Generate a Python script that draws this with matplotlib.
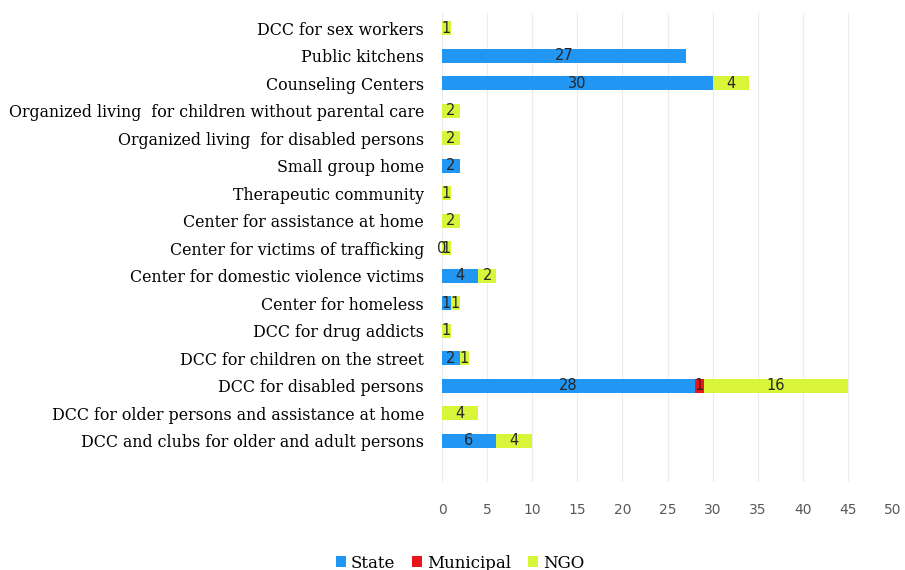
import matplotlib
matplotlib.use("Agg")
import matplotlib.pyplot as plt
import numpy as np

categories = [
    "DCC for sex workers",
    "Public kitchens",
    "Counseling Centers",
    "Organized living  for children without parental care",
    "Organized living  for disabled persons",
    "Small group home",
    "Therapeutic community",
    "Center for assistance at home",
    "Center for victims of trafficking",
    "Center for domestic violence victims",
    "Center for homeless",
    "DCC for drug addicts",
    "DCC for children on the street",
    "DCC for disabled persons",
    "DCC for older persons and assistance at home",
    "DCC and clubs for older and adult persons",
]
nan = np.nan
state     = [nan, 27, 30, nan, nan, 2, nan, nan, 0, 4, 1, nan, 2, 28, nan, 6]
municipal = [nan, nan, nan, nan, nan, nan, nan, nan, nan, nan, nan, nan, nan, 1, nan, nan]
ngo       = [1, nan, 4, 2, 2, nan, 1, 2, 1, 2, 1, 1, 1, 16, 4, 4]
series_names = ["State", "Municipal", "NGO"]
colors = ["#2196F3", "#E8161B", "#D9F53A"]
xticks = [0, 5, 10, 15, 20, 25, 30, 35, 40, 45, 50]

fig = plt.figure(figsize=(9.05, 5.7), dpi=100)
ax = fig.add_axes([442/905, 1-482/570, 451/905, 469/570])

n = len(categories)
y = np.arange(n)[::-1]
left = np.zeros(n)
for vals, name, col in zip([state, municipal, ngo], series_names, colors):
    v = np.array(vals, dtype=float)
    w = np.nan_to_num(v)
    ax.barh(y, w, left=left, height=0.5, color=col, label=name, linewidth=0)
    for yi, l, val in zip(y, left, v):
        if not np.isnan(val):
            ax.text(l + val/2, yi, f"{int(val)}", ha="center", va="center",
                    fontsize=10.5, color="#262626", family="DejaVu Sans")
    left = left + w

ax.set_xlim(0, 50)
ax.set_ylim(-1.5, 15.55)
ax.set_yticks(y)
ax.set_yticklabels(categories, family="DejaVu Serif", fontsize=11.45, color="black")
ax.set_xticks(xticks)
ax.set_xticklabels([str(t) for t in xticks], family="DejaVu Sans", fontsize=10, color="#595959")
ax.tick_params(axis="both", length=0)
ax.tick_params(axis="x", pad=15)
ax.tick_params(axis="y", pad=13)
for s in ax.spines.values():
    s.set_visible(False)
ax.grid(axis="x", color="#EBEBEB", linewidth=0.8)
ax.set_axisbelow(True)

fig.legend(loc="center", bbox_to_anchor=(460/905, 1-563/570), ncol=3, frameon=False,
           prop={"family": "DejaVu Serif", "size": 12}, handlelength=0.6,
           handleheight=0.6, handletextpad=0.3, columnspacing=1.0)

fig.savefig("out.png", dpi=100)
